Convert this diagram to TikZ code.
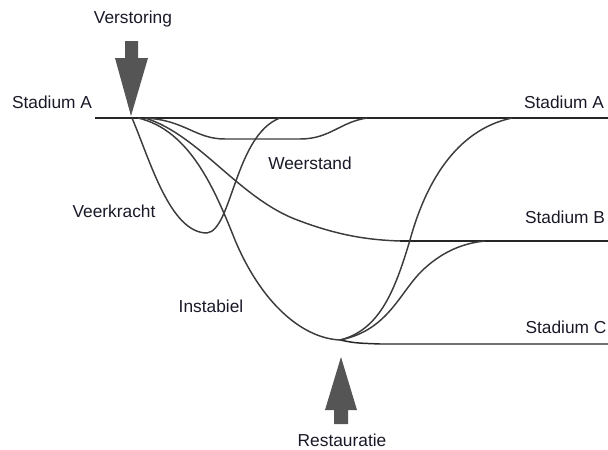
\documentclass[tikz,border=0pt]{standalone}
\usepackage{fontspec}
\setmainfont{Liberation Sans}
\usepackage{xcolor}
\usepackage{tikz}
\usetikzlibrary{positioning}

\definecolor{curvegray}{RGB}{60,60,60}
\definecolor{arrowgray}{RGB}{85,85,85}
\definecolor{labelink}{RGB}{25,25,40}

\begin{document}
\begin{tikzpicture}[x=0.75pt, y=-0.75pt,
        every node/.style={font=\fontsize{13}{15}\selectfont, text=labelink, inner sep=0pt},
        curve/.style={draw=curvegray, line width=1.1pt},
        level/.style={draw=black!85, line width=1.1pt},
        fatarrow/.style={fill=arrowgray}]
    \useasboundingbox (0,0) rectangle (608,450);

    % levels
    \coordinate (a0) at (95,118);
    \coordinate (a1) at (608,118);
    \coordinate (b0) at (400,241);
    \coordinate (b1) at (608,241);
    \coordinate (c0) at (340,340);
    \coordinate (c1) at (608,344);
    \coordinate (dip) at (132,118);
    \coordinate (low) at (207,233);
    \coordinate (ra) at (512,118);
    \coordinate (rb) at (485,241);
    \coordinate (wa) at (367,118);
    \coordinate (va) at (280,118);

    \draw[level] (a0) -- (a1);
    \draw[level] (b0) -- (b1);
    \draw[level] (c0) .. controls (355,343) .. (380,344) -- (c1);

    % veerkracht
    \draw[curve] (dip) .. controls (150,160) and (170,233) .. (low)
        .. controls (232,230) and (235,135) .. (va);
    % weerstand
    \draw[curve] (145,118) .. controls (185,120) and (195,139) .. (225,139)
        -- (300,139) .. controls (330,139) and (340,122) .. (wa);
    % naar stadium B
    \draw[curve] (145,118) .. controls (200,135) and (240,200) .. (300,221)
        .. controls (340,236) and (370,240) .. (b0);
    % instabiel
    \draw[curve] (138,118) .. controls (190,130) and (215,190) .. (235,240)
        .. controls (260,300) and (300,338) .. (c0);
    % restauratie
    \draw[curve] (c0) .. controls (380,330) and (395,290) .. (410,240)
        .. controls (425,185) and (455,130) .. (ra);
    \draw[curve] (c0) .. controls (390,330) and (400,290) .. (425,268)
        .. controls (445,250) and (465,243) .. (rb);

    % arrows
    \coordinate (vtip) at (131,116);
    \coordinate (rtip) at (341,357);
    \fill[fatarrow] (vtip) -- ++(-16,-58) -- ++(10,0) -- ++(0,-17) -- ++(13,0)
        -- ++(0,17) -- ++(10,0) -- cycle;
    \fill[fatarrow] (rtip) -- ++(-16,53) -- ++(9,0) -- ++(0,14) -- ++(14,0)
        -- ++(0,-14) -- ++(9,0) -- cycle;

    % labels
    \node (verstoring) at (133,19) {Verstoring};
    \node (restauratie) at (342,440) {Restauratie};
    \node (stA) at (52,102) {Stadium A};
    \node (stAr) at (564,102) {Stadium A};
    \node (stB) at (565,217) {Stadium B};
    \node (stC) at (566,327) {Stadium C};
    \node (weerstand) at (310,163) {Weerstand};
    \node (veerkracht) at (114,211) {Veerkracht};
    \node (instabiel) at (211,306) {Instabiel};
\end{tikzpicture}
\end{document}
